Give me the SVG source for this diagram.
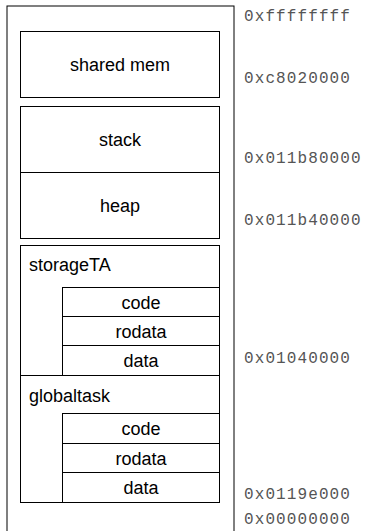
<svg xmlns="http://www.w3.org/2000/svg" width="365" height="531" viewBox="0 0 365 531">
<style>
.box{fill:#fff;stroke:#000;stroke-width:1}
.outer{fill:#fff;stroke:#000;stroke-width:1}
.lbl{font-family:"Liberation Sans",Arial,sans-serif;font-size:18px;fill:#000;text-anchor:middle}
.lbl-l{font-family:"Liberation Sans",Arial,sans-serif;font-size:18px;fill:#000}
.addr{font-family:"Liberation Mono","Courier New",monospace;font-size:16px;fill:#555;letter-spacing:1.1px}
</style>
<rect width="365" height="531" fill="#fff"/>
<g id="memory">
<rect class="outer" x="7" y="6" width="227" height="540"/>
</g>
<g id="shared-mem">
<rect class="box" x="20.5" y="31.5" width="199" height="66"/>
<text class="lbl" x="120" y="71">shared mem</text>
</g>
<g id="stack">
<rect class="box" x="20.5" y="106.5" width="199" height="66"/>
<text class="lbl" x="120" y="146">stack</text>
</g>
<g id="heap">
<rect class="box" x="20.5" y="172.5" width="199" height="66"/>
<text class="lbl" x="120" y="212">heap</text>
</g>
<g id="storageTA">
<rect class="box" x="20.5" y="245.5" width="199" height="130"/>
<text class="lbl-l" x="29" y="271">storageTA</text>
</g>
<g id="storageTA-code">
<rect class="box" x="62.5" y="287.5" width="157" height="29"/>
<text class="lbl" x="141" y="308.5">code</text>
</g>
<g id="storageTA-rodata">
<rect class="box" x="62.5" y="316.5" width="157" height="29"/>
<text class="lbl" x="141" y="337.5">rodata</text>
</g>
<g id="storageTA-data">
<rect class="box" x="62.5" y="345.5" width="157" height="30"/>
<text class="lbl" x="141" y="367">data</text>
</g>
<g id="globaltask">
<rect class="box" x="20.5" y="375.5" width="199" height="127"/>
<text class="lbl-l" x="29" y="402">globaltask</text>
</g>
<g id="globaltask-code">
<rect class="box" x="62.5" y="413.5" width="157" height="30"/>
<text class="lbl" x="141" y="435">code</text>
</g>
<g id="globaltask-rodata">
<rect class="box" x="62.5" y="443.5" width="157" height="29"/>
<text class="lbl" x="141" y="464.5">rodata</text>
</g>
<g id="globaltask-data">
<rect class="box" x="62.5" y="472.5" width="157" height="30"/>
<text class="lbl" x="141" y="494">data</text>
</g>
<g id="addresses">
<text class="addr" x="244" y="21">0xffffffff</text>
<text class="addr" x="244" y="83">0xc8020000</text>
<text class="addr" x="244" y="163">0x011b80000</text>
<text class="addr" x="244" y="225">0x011b40000</text>
<text class="addr" x="244" y="363">0x01040000</text>
<text class="addr" x="244" y="499">0x0119e000</text>
<text class="addr" x="244" y="524">0x00000000</text>
</g>
</svg>
